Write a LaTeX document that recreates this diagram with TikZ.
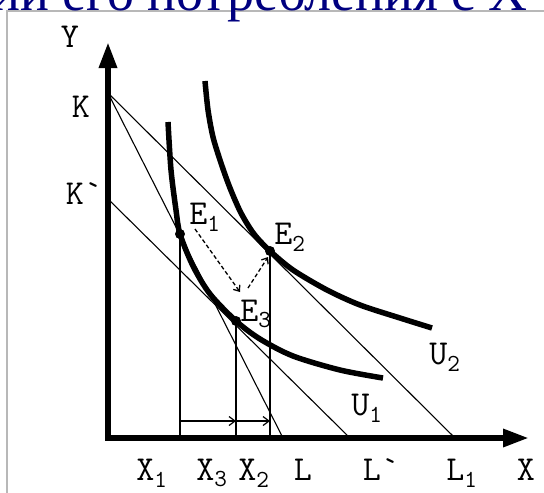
\documentclass[tikz,border=0pt]{standalone}
\usepackage{fontspec}
\newfontfamily\titlefont{Liberation Serif}
\usetikzlibrary{arrows.meta,positioning}
\definecolor{titleblue}{HTML}{000080}
\definecolor{framegray}{HTML}{B8B8B8}

\begin{document}
\begin{tikzpicture}[x=1pt,y=-1pt,
  axisline/.style={line width=6pt,-{Triangle[length=26pt,width=17pt]}},
  budget/.style={line width=1.1pt},
  dropline/.style={line width=1.3pt},
  indiff/.style={line width=5.5pt},
  moveline/.style={line width=1.3pt,dash pattern=on 4pt off 2.5pt,-{Straight Barb[length=5pt,width=8pt]}},
  stepline/.style={line width=1.2pt,-{Straight Barb[length=6pt,width=9pt]}},
  lbl/.style={font=\ttfamily\fontsize{35}{35}\selectfont,inner sep=0pt}
]
\useasboundingbox (0,0) rectangle (544,493);
% frame and cut title
\draw[framegray,line width=2pt] (7,493) -- (7,10.5) -- (544,10.5);
\node[anchor=base west,inner sep=0pt,text=titleblue,
      font=\titlefont\fontsize{54}{54}\selectfont] (title) at (-9,10) {ии его потребления с Х};

% points
\coordinate (O) at (108,438);
\coordinate (Oc) at (105,438);
\coordinate (Ytip) at (108,42);
\coordinate (Xtip) at (529,438);
\coordinate (K) at (108,93);
\coordinate (Kp) at (108,199);
\coordinate (L) at (283,438);
\coordinate (Lp) at (350,438);
\coordinate (Lone) at (455,438);
\coordinate (E1) at (180,234);
\coordinate (E2) at (270,251);
\coordinate (E3) at (236,321);
\coordinate (arrowrow) at (0,421);

% budget lines
\draw[budget] (K) -- (L);
\draw[budget] (K) -- (Lone);
\draw[budget] (Kp) -- (Lp);

% indifference curves
\draw[indiff] plot[smooth] coordinates {(168,122) (171,170) (176,210) (180,234) (193,266)
  (210,294) (236,321) (260,339) (293,356) (340,370) (383,378)};
\draw[indiff] plot[smooth] coordinates {(205,81) (208,110) (213,137) (221,163) (230,188)
  (241,213) (254,234) (270,251) (293,270) (327,290) (360,305) (400,318) (432,328)};

% drop lines
\draw[dropline] (E1) -- (E1 |- O);
\draw[dropline] (E3) -- (E3 |- O);
\draw[dropline] (E2) -- (E2 |- O);
\draw[stepline] (E1 |- arrowrow) -- (E3 |- arrowrow);
\draw[stepline] (E3 |- arrowrow) -- (E2 |- arrowrow);

% moves
\coordinate (m1a) at (195,229);
\coordinate (m1b) at (240,292);
\coordinate (m2a) at (248,288);
\coordinate (m2b) at (268,257);
\draw[moveline] (m1a) -- (m1b);
\draw[moveline] (m2a) -- (m2b);

\foreach \p in {E1,E2,E3} \fill (\p) circle (5pt);

% axes
\draw[axisline] (O) -- (Ytip);
\draw[axisline] (Oc) -- (Xtip);

% labels
\node[lbl] (labY) at (70,37) {Y};
\node[lbl] (labK) at (81,107) {K};
\node[lbl] (labKp) at (84,194) {K`};
\node[lbl] (labE1) at (205,217) {E\textsubscript{1}};
\node[lbl] (labE2) at (290,237) {E\textsubscript{2}};
\node[lbl] (labE3) at (256,314) {E\textsubscript{3}};
\node[lbl] (labU1) at (367,408) {U\textsubscript{1}};
\node[lbl] (labU2) at (445,357) {U\textsubscript{2}};
\node[lbl] (labX1) at (152,473) {X\textsubscript{1}};
\node[lbl] (labX3) at (212,473) {X\textsubscript{3}};
\node[lbl] (labX2) at (254,473) {X\textsubscript{2}};
\node[lbl] (labL) at (303,470) {L};
\node[lbl] (labLp) at (381,470) {L`};
\node[lbl] (labL1) at (462,473) {L\textsubscript{1}};
\node[lbl] (labX) at (526,470) {X};
\end{tikzpicture}
\end{document}
